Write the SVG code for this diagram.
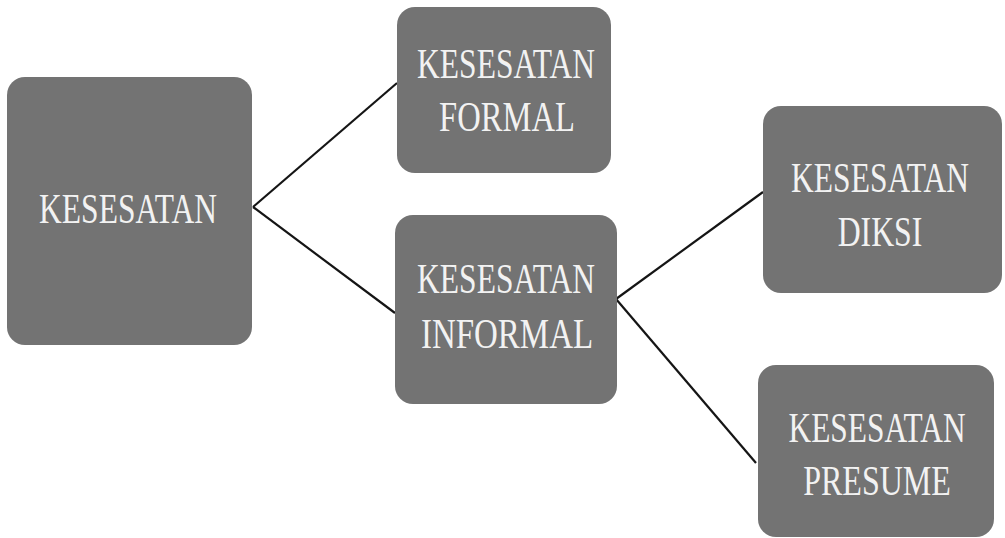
<svg xmlns="http://www.w3.org/2000/svg" width="1005" height="538" viewBox="0 0 1005 538">
<style>
.box{fill:#737373;}
.lbl{font-family:'Liberation Serif',serif;font-size:43px;fill:#f2f2f2;text-anchor:middle;}
.con{stroke:#151515;stroke-width:2.2;fill:none;}
</style>
<rect width="1005" height="538" fill="#ffffff"/>
<g id="connectors">
<line class="con" x1="253" y1="207" x2="397" y2="83"/>
<line class="con" x1="253" y1="207" x2="395" y2="313"/>
<line class="con" x1="616" y1="299" x2="763" y2="192"/>
<line class="con" x1="616" y1="299" x2="756" y2="463"/>
</g>
<g id="node-kesesatan">
<rect class="box" x="7" y="77" width="245" height="268" rx="18"/>
<text class="lbl" transform="translate(128,223) scale(0.7,1)" textLength="254" lengthAdjust="spacingAndGlyphs">KESESATAN</text>
</g>
<g id="node-formal">
<rect class="box" x="397" y="7" width="214" height="166" rx="18"/>
<text class="lbl" transform="translate(506,78) scale(0.7,1)" textLength="254" lengthAdjust="spacingAndGlyphs">KESESATAN</text>
<text class="lbl" transform="translate(507,131) scale(0.7,1)" textLength="194" lengthAdjust="spacingAndGlyphs">FORMAL</text>
</g>
<g id="node-informal">
<rect class="box" x="395" y="215" width="222" height="189" rx="18"/>
<text class="lbl" transform="translate(506,293) scale(0.7,1)" textLength="254" lengthAdjust="spacingAndGlyphs">KESESATAN</text>
<text class="lbl" transform="translate(507,348) scale(0.7,1)" textLength="246" lengthAdjust="spacingAndGlyphs">INFORMAL</text>
</g>
<g id="node-diksi">
<rect class="box" x="763" y="106" width="239" height="187" rx="18"/>
<text class="lbl" transform="translate(880,192) scale(0.7,1)" textLength="254" lengthAdjust="spacingAndGlyphs">KESESATAN</text>
<text class="lbl" transform="translate(880,246) scale(0.7,1)" textLength="121" lengthAdjust="spacingAndGlyphs">DIKSI</text>
</g>
<g id="node-presume">
<rect class="box" x="758" y="365" width="236" height="172" rx="18"/>
<text class="lbl" transform="translate(877,442) scale(0.7,1)" textLength="253" lengthAdjust="spacingAndGlyphs">KESESATAN</text>
<text class="lbl" transform="translate(877,495) scale(0.7,1)" textLength="211" lengthAdjust="spacingAndGlyphs">PRESUME</text>
</g>
</svg>
